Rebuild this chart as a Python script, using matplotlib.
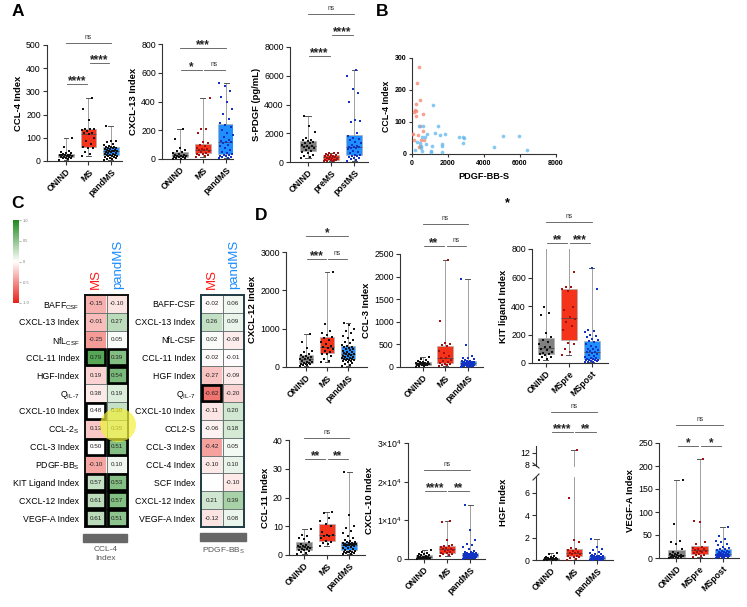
import numpy as np
import matplotlib
matplotlib.use("Agg")
import matplotlib.pyplot as plt
from matplotlib.colors import LinearSegmentedColormap
from matplotlib.patches import Rectangle, Ellipse
from matplotlib.lines import Line2D

plt.rcParams['font.family'] = ['Liberation Sans', 'DejaVu Sans']
plt.rcParams['mathtext.fontset'] = 'custom'
plt.rcParams['mathtext.rm'] = 'Liberation Sans'
plt.rcParams['mathtext.it'] = 'Liberation Sans:italic'
plt.rcParams['mathtext.bf'] = 'Liberation Sans:bold'

# ---------------- DATA ----------------
grp3 = ['ONIND', 'MS', 'pandMS']
grp_pre = ['ONIND', 'preMS', 'postMS']
grp_mspre = ['ONIND', 'MSpre', 'MSpost']

# Panel A
ccl4_onind = [6, 10, 12, 13, 15, 16, 17, 19, 20, 22, 24, 25, 26, 27, 28, 30, 33, 35, 38, 45, 62, 100]
ccl4_ms = [22, 30, 40, 55, 58, 62, 75, 85, 100, 116, 120, 122, 128, 132, 136, 138, 140, 175, 222, 270]
ccl4_pand = [5, 8, 10, 12, 14, 16, 18, 20, 22, 23, 24, 26, 28, 30, 32, 34, 36, 38, 40, 42, 43, 44, 45, 46,
             48, 50, 52, 54, 55, 58, 60, 60, 62, 65, 70, 75, 80, 85, 88, 150]
cxcl13_onind = [0, 2, 5, 8, 12, 14, 15, 18, 20, 24, 26, 30, 35, 40, 48, 55, 60, 80, 140, 210]
cxcl13_ms = [15, 20, 25, 30, 35, 38, 42, 50, 55, 60, 63, 67, 72, 80, 90, 100, 110, 120, 180, 210, 212, 425]
cxcl13_pand = [5, 8, 12, 15, 18, 22, 26, 30, 35, 40, 48, 60, 75, 90, 100, 110, 115, 120, 125, 135, 150, 165,
               180, 200, 220, 235, 250, 280, 310, 350, 400, 430, 470, 510, 530]
spdgf_onind = [300, 350, 420, 500, 600, 700, 780, 850, 950, 1000, 1050, 1080, 1120, 1200, 1300, 1350, 1400,
               1450, 1500, 1550, 1700, 2100, 2500, 3200]
spdgf_pre = [50, 80, 100, 120, 140, 160, 170, 200, 240, 280, 310, 350, 380, 410, 440, 480, 510, 520, 560, 600, 630, 650]
spdgf_post = [100, 150, 200, 250, 300, 350, 400, 450, 480, 520, 600, 700, 800, 900, 950, 1000, 1030, 1050, 1060,
              1100, 1200, 1300, 1400, 1500, 1600, 1700, 1800, 2000, 2800, 2850, 2900, 4200, 4800, 5100, 6000, 6400]

# Panel B  (PDGF-BB-S vs CCL-4 index)
b_ms_x = [390, 280, 428, 205, 150, 205, 110, 614, 240, 428, 614, 335, 56, 20, 520, 650, 110, 428, 390]
b_ms_y = [271, 222, 169, 156, 138, 133, 130, 125, 119, 88, 73, 60, 63, 63, 44, 44, 44, 26, 23]
b_pand_x = [1170, 390, 614, 1450, 1300, 1860, 1560, 855, 577, 707, 2620, 2900, 2850, 5080, 5935, 300, 428, 763,
            1675, 1675, 1135, 2850, 4577, 520, 520, 1040, 1080, 560, 150, 1690, 6380]
b_pand_y = [152, 89, 89, 86, 67, 61, 58, 62, 54, 54, 54, 51, 54, 55, 55, 36, 33, 30, 31, 26, 26, 33, 23, 26, 20,
            9, 7, 9, 12, 5, 12]

# Panel C heatmaps
hm1_rows = [r'BAFF$_{\mathrm{CSF}}$', 'CXCL-13 Index', r'NfL$_{\mathrm{CSF}}$', 'CCL-11 Index', 'HGF-Index',
            r'Q$_{\mathrm{IL}\text{-}\mathrm{7}}$', 'CXCL-10 Index', r'CCL-2$_{\mathrm{S}}$', 'CCL-3 Index',
            r'PDGF-BB$_{\mathrm{S}}$', 'KIT Ligand Index', 'CXCL-12 Index', 'VEGF-A Index']
hm1_ms = [-0.15, -0.01, -0.25, 0.79, 0.19, 0.38, 0.48, 0.13, 0.50, -0.10, 0.57, 0.61, 0.61]
hm1_pand = [-0.10, 0.27, 0.05, 0.39, 0.54, 0.19, 0.30, 0.35, 0.51, 0.10, 0.53, 0.57, 0.51]
# shading as displayed in the published heatmap
hm1_ms_shade = [-0.35, -0.3, -0.45, 0.75, -0.2, -0.1, 0.0, -0.25, 0.0, -0.4, 0.25, 0.3, 0.3]
hm1_pand_shade = [-0.12, 0.3, 0.03, 0.55, 0.6, 0.15, 0.25, 0.2, 0.55, 0.07, 0.55, 0.55, 0.5]
hm1_bold = [(3, 0), (3, 1), (4, 1), (6, 0), (8, 0), (8, 1), (10, 0), (10, 1), (11, 0), (11, 1), (12, 0), (12, 1)]

hm2_rows = ['BAFF-CSF', 'CXCL-13 Index', 'NfL-CSF', 'CCL-11 Index', 'HGF Index',
            r'Q$_{\mathrm{IL}\text{-}\mathrm{7}}$', 'CXCL-10 Index', 'CCL2-S', 'CCL-3 Index', 'CCL-4 Index',
            'SCF Index', 'CXCL-12 Index', 'VEGF-A Index']
hm2_ms = [-0.02, 0.26, 0.02, -0.02, -0.27, -0.62, -0.11, -0.06, -0.42, -0.10, np.nan, 0.21, -0.12]
hm2_pand = [0.06, 0.09, -0.08, -0.01, -0.09, -0.20, 0.20, 0.18, 0.05, 0.10, -0.10, 0.39, 0.08]
hm2_bold = [(5, 0)]

# Panel D
cxcl12_onind = [20, 40, 55, 70, 85, 90, 100, 110, 120, 140, 160, 180, 200, 210, 230, 250, 270, 300, 320, 340,
                380, 420, 500, 640, 850]
cxcl12_ms = [130, 160, 220, 280, 330, 350, 380, 420, 460, 500, 520, 540, 600, 650, 700, 760, 790, 830, 880, 950,
             1130, 2480]
cxcl12_pand = [30, 60, 90, 110, 130, 150, 160, 170, 180, 190, 200, 210, 220, 230, 240, 250, 260, 280, 300, 320,
               330, 340, 350, 360, 380, 400, 420, 440, 460, 480, 500, 510, 520, 540, 580, 620, 660, 700, 760, 820,
               880, 950, 1000, 1100, 1150]
ccl3_onind = [10, 20, 30, 40, 48, 52, 55, 60, 65, 70, 73, 77, 80, 85, 90, 100, 110, 115, 130, 150, 180, 230]
ccl3_ms = [20, 35, 50, 60, 70, 80, 100, 130, 160, 190, 210, 250, 300, 350, 460, 480, 500, 530, 1010, 2370]
ccl3_pand = [5, 10, 15, 20, 25, 28, 32, 35, 38, 42, 48, 55, 60, 65, 70, 75, 78, 80, 85, 90, 95, 100, 105, 110,
             118, 125, 130, 140, 150, 170, 200, 210, 250, 490, 1950]
kit_onind = [20, 30, 40, 45, 55, 60, 65, 70, 80, 90, 100, 110, 115, 130, 150, 160, 180, 210, 340, 350, 390, 1050]
kit_pre = [55, 75, 95, 130, 140, 230, 260, 290, 310, 325, 370, 390, 505, 520, 530, 535, 640, 950]
kit_post = [5, 8, 10, 12, 15, 18, 20, 22, 24, 25, 28, 32, 38, 45, 50, 55, 60, 68, 75, 80, 85, 90, 95, 100, 110,
            120, 130, 145, 155, 160, 170, 180, 190, 200, 215, 225, 235, 520, 665]
ccl11_onind = [0.5, 0.8, 1.0, 1.3, 1.6, 1.8, 2.0, 2.2, 2.5, 2.7, 2.8, 2.9, 3.0, 3.2, 3.6, 4.0, 4.6, 5.5, 6.0, 6.5,
               7.0, 9.0]
ccl11_ms = [3.0, 4.0, 4.3, 4.5, 5.0, 6.0, 6.5, 6.7, 6.8, 7.0, 8.0, 10.0, 10.8, 12.0, 13.0, 14.5, 15.0]
ccl11_pand = [0.3, 0.5, 0.7, 0.8, 0.9, 1.0, 1.1, 1.2, 1.3, 1.5, 1.7, 2.0, 2.3, 2.6, 2.9, 3.1, 3.3, 3.4, 3.5, 3.5,
              3.6, 3.7, 3.8, 3.9, 4.0, 4.1, 4.2, 4.3, 4.4, 4.5, 4.8, 5.2, 5.8, 6.5, 7.5, 8.5, 9.5, 10.2, 13.8, 28.7]
cxcl10_onind = [100, 130, 150, 170, 180, 200, 250, 300, 350, 420, 480, 520, 600, 700, 800, 950, 1050, 1200, 1400,
                1600, 1900, 2200]
cxcl10_ms = [900, 1000, 1200, 1400, 1450, 1500, 1800, 2100, 2300, 2450, 2550, 2700, 2900, 3100, 3300, 3400, 3500,
             5000, 9500, 9800]
cxcl10_pand = [100, 150, 200, 250, 300, 330, 360, 380, 400, 420, 450, 500, 600, 700, 800, 900, 950, 1000, 1050,
               1100, 1100, 1150, 1200, 1250, 1300, 1350, 1400, 1450, 1500, 1650, 1750, 1900, 2100, 2500, 3000, 3500,
               4000, 5000, 7600, 14000]
hgf_onind = [0.01, 0.02, 0.03, 0.04, 0.05, 0.06, 0.07, 0.08, 0.09, 0.10, 0.11, 0.12, 0.13, 0.15, 0.17, 0.19, 0.21,
             0.25, 0.30, 0.40, 0.50, 0.60]
hgf_ms = [0.02, 0.1, 0.2, 0.25, 0.3, 0.35, 0.4, 0.5, 0.55, 0.6, 0.62, 0.7, 0.8, 0.9, 1.0, 1.1, 1.6, 1.8, 5.5, 12.7]
hgf_pand = [0.01, 0.02, 0.03, 0.04, 0.05, 0.05, 0.06, 0.06, 0.07, 0.07, 0.08, 0.09, 0.10, 0.11, 0.12, 0.14, 0.15,
            0.17, 0.18, 0.19, 0.21, 0.22, 0.24, 0.26, 0.28, 0.30, 0.32, 0.33, 0.35, 0.37, 0.40, 0.45, 0.50, 0.55,
            0.60, 0.70, 0.90, 1.00, 1.20, 1.90]
vegf_onind = [0.5, 1, 1.5, 2, 2.5, 3, 3.5, 4, 5, 6, 7, 7.5, 8, 9, 10, 12, 20, 30, 35, 37, 73, 170]
vegf_pre = [3, 5, 6, 7, 8, 10, 12, 14, 15, 16, 18, 19, 20, 22, 25, 30, 35, 78, 80, 215]
vegf_post = [0.5, 1, 1.5, 2, 2.5, 3, 3.5, 4, 4.5, 5, 5.5, 6, 6.5, 7, 7.5, 8, 8, 8.5, 9, 10, 11, 12, 13, 14, 15, 16,
             18, 19, 20, 22, 25, 28, 30, 35, 38, 42, 47, 68]

# ---------------- STYLE ----------------
W, H = 747, 607
fig = plt.figure(figsize=(W / 100, H / 100), dpi=100)

GRAY, RED, BLUE = '#808080', '#f5321a', '#1f8fff'
K, DR, DB = '#111111', '#a31010', '#1232c4'


def add_ax(l, t, r, b):
    return fig.add_axes([l / W, 1 - b / H, (r - l) / W, (b - t) / H])


def fx(x):
    return x / W


def fy(y):
    return 1 - y / H


def style_ax(ax):
    for s in ['top', 'right']:
        ax.spines[s].set_visible(False)
    for s in ['left', 'bottom']:
        ax.spines[s].set_color('#333333')
        ax.spines[s].set_linewidth(0.8)
    ax.tick_params(direction='out', length=3, width=0.8, color='#333333', labelsize=6.3, pad=1.5)


def boxpanel(ax, groups, labels, pcolors, ylim, yticks, ylabel, xlim, brackets,
             ytlabels=None, width=0.7, xt=True):
    bp = ax.boxplot(groups, positions=range(len(groups)), widths=width, whis=(0, 100),
                    patch_artist=True, showfliers=False,
                    medianprops=dict(color='#444444', lw=0.5),
                    boxprops=dict(edgecolor='#b0b0b0', lw=0.5),
                    whiskerprops=dict(color='#a0a0a0', lw=0.7),
                    capprops=dict(color='#555555', lw=0.7), capwidths=0.22)
    for p, c in zip(bp['boxes'], [GRAY, RED, BLUE]):
        p.set_facecolor(c)
    for i, (g, pc) in enumerate(zip(groups, pcolors)):
        n = len(g)
        off = ((np.arange(n) * 0.6180339887) % 1 - 0.5) * width * 0.85
        ax.scatter(i + off, g, s=4, color=pc, zorder=3, linewidths=0, marker='s')
    ax.set_xlim(*xlim)
    ax.set_ylim(*ylim)
    ax.set_yticks(yticks)
    if ytlabels is not None:
        ax.set_yticklabels(ytlabels)
    style_ax(ax)
    if xt:
        ax.set_xticks(range(len(groups)))
        ax.set_xticklabels(labels, rotation=45, ha='right', rotation_mode='anchor',
                           fontweight='bold', fontsize=6.3)
    else:
        ax.set_xticks([])
    if ylabel:
        ax.set_ylabel(ylabel, fontweight='bold', fontsize=6.8, labelpad=2)
    for (i, j, y, txt) in brackets:
        if j - i == 1:
            x1, x2 = i + 0.06, j - 0.06
        else:
            x1, x2 = i, j
        ax.add_line(Line2D([x1, x2], [y, y], color='#555555', lw=0.6, clip_on=False))
        if txt == 'ns':
            ax.annotate(txt, ((x1 + x2) / 2, y), xytext=(0, 1.5), textcoords='offset points',
                        ha='center', va='bottom', fontsize=4.8, color='#333333', annotation_clip=False)
        else:
            ax.annotate(txt, ((x1 + x2) / 2, y), xytext=(0, -2.2), textcoords='offset points',
                        ha='center', va='bottom', fontsize=8.5, fontweight='bold', color='#222222',
                        annotation_clip=False)


# ---------------- PANEL A ----------------
fig.text(fx(12), fy(4), 'A', fontsize=12.5, fontweight='bold', va='top', ha='left')
ax = add_ax(47, 45, 122, 161)
boxpanel(ax, [ccl4_onind, ccl4_ms, ccl4_pand], grp3, [K, K, K], (0, 500), range(0, 501, 100),
         'CCL-4 Index', (-0.85, 2.5), [(0, 1, 332, '****'), (1, 2, 422, '****'), (0, 2, 509, 'ns')])
ax = add_ax(162, 44, 233, 159)
boxpanel(ax, [cxcl13_onind, cxcl13_ms, cxcl13_pand], grp3, [K, DR, DB], (0, 800), range(0, 801, 200),
         'CXCL-13 Index', (-0.77, 2.3), [(0, 1, 618, '*'), (1, 2, 618, 'ns'), (0, 2, 770, '***')])
ax = add_ax(290, 47, 368, 162)
boxpanel(ax, [spdgf_onind, spdgf_pre, spdgf_post], grp_pre, [K, DR, DB], (0, 8000), range(0, 8001, 2000),
         'S-PDGF (pg/mL)', (-0.78, 2.6), [(0, 1, 7370, '****'), (1, 2, 8820, '****'), (0, 2, 10280, 'ns')])

# ---------------- PANEL B ----------------
fig.text(fx(376), fy(4), 'B', fontsize=12.5, fontweight='bold', va='top', ha='left')
ax = add_ax(412, 58, 556, 154)
ax.scatter(b_ms_x, b_ms_y, s=7, color='#f4826e', alpha=0.75, linewidths=0, zorder=3)
ax.scatter(b_pand_x, b_pand_y, s=7, color='#5cb8ee', alpha=0.75, linewidths=0, zorder=3)
ax.set_xlim(0, 8000)
ax.set_ylim(0, 300)
ax.set_xticks(range(0, 8001, 2000))
ax.set_yticks(range(0, 301, 100))
style_ax(ax)
ax.tick_params(labelsize=5, length=2.5)
for t in ax.get_xticklabels() + ax.get_yticklabels():
    t.set_fontweight('bold')
ax.set_xlabel('PDGF-BB-S', fontweight='bold', fontsize=6.6, labelpad=4)
ax.set_ylabel('CCL-4 Index', fontweight='bold', fontsize=6.3, labelpad=3)

# ---------------- PANEL C ----------------
fig.text(fx(11), fy(196), 'C', fontsize=12.5, fontweight='bold', va='top', ha='left')
cmap = LinearSegmentedColormap.from_list('rg', [(0, '#e8221b'), (0.5, '#ffffff'), (1, '#1f8a1f')])

# colorbar
cax = add_ax(13, 220, 19, 303)
grad = np.linspace(1, -1, 200).reshape(-1, 1)
cax.imshow(grad, cmap=cmap, vmin=-1, vmax=1, aspect='auto', extent=[0, 1, -1, 1])
cax.set_xticks([])
cax.yaxis.tick_right()
cax.set_yticks([1, 0.5, 0, -0.5, -1])
cax.set_yticklabels(['1.0', '0.5', '0', '-0.5', '-1.0'])
cax.tick_params(labelsize=2.8, length=1.5, width=0.4, colors='#777777', pad=1)
for s in cax.spines.values():
    s.set_visible(False)


def heatmap(l, r, t, b, rows, v_ms, v_pand, shade_ms, shade_pand, bold, frame_color, frame_lw):
    ax = add_ax(l, t, r, b)
    vals = np.array([v_ms, v_pand], dtype=float).T
    shade = np.array([shade_ms, shade_pand], dtype=float).T
    shade_draw = np.where(np.isnan(shade), 0, shade)
    ax.imshow(shade_draw, cmap=cmap, vmin=-1, vmax=1, aspect='auto')
    nr = len(rows)
    for i in range(nr):
        for j in range(2):
            ax.add_patch(Rectangle((j - 0.5, i - 0.5), 1, 1, fill=False, ec='#667070', lw=0.5))
            if not np.isnan(vals[i, j]):
                ax.text(j, i, f'{vals[i, j]:.2f}', ha='center', va='center', fontsize=4.5, color='#222222')
    for (i, j) in bold:
        ax.add_patch(Rectangle((j - 0.5 + 0.05, i - 0.5 + 0.05), 0.9, 0.9, fill=False, ec='black',
                               lw=1.9, zorder=5))
    ax.set_xticks([])
    ax.set_yticks(range(nr))
    ax.set_yticklabels(rows, fontsize=6.3)
    ax.tick_params(axis='y', length=0, pad=4)
    for s in ax.spines.values():
        s.set_color(frame_color)
        s.set_linewidth(frame_lw)
    return ax


heatmap(85, 128, 295, 527, hm1_rows, hm1_ms, hm1_pand, hm1_ms_shade, hm1_pand_shade, hm1_bold, '#111111', 1.4)
heatmap(201, 244, 295, 527, hm2_rows, hm2_ms, hm2_pand, hm2_ms, hm2_pand, hm2_bold, '#1f3b44', 1.4)

for cx in (96, 212):
    fig.text(fx(cx), fy(289), 'MS', rotation=90, color='#ff1a1a', fontsize=9.5, ha='center', va='bottom')
for cx in (118, 234):
    fig.text(fx(cx), fy(289), 'pandMS', rotation=90, color='#1a8cff', fontsize=9.5, ha='center', va='bottom')

fig.patches.append(Rectangle((fx(83), fy(542)), (127 - 83) / W, 8 / H, transform=fig.transFigure,
                             color='#676767', zorder=1))
fig.patches.append(Rectangle((fx(200), fy(541)), (246 - 200) / W, 8 / H, transform=fig.transFigure,
                             color='#676767', zorder=1))
fig.text(fx(106), fy(546), 'CCL-4\nIndex', ha='center', va='top', fontsize=6, color='#555555', linespacing=1.5)
fig.text(fx(223), fy(546), r'PDGF-BB$_{\mathrm{S}}$', ha='center', va='top', fontsize=6, color='#555555')

# yellow highlight
fig.patches.append(Ellipse((fx(118), fy(425)), 36 / W, 34 / H, transform=fig.transFigure,
                           color='#f1f03a', alpha=0.7, zorder=10, lw=0))

# ---------------- PANEL D ----------------
fig.text(fx(255), fy(208), 'D', fontsize=12.5, fontweight='bold', va='top', ha='left')
fig.text(fx(507), fy(203), '*', fontsize=9, fontweight='bold', ha='center', va='center')

ax = add_ax(286, 252, 367, 367)
boxpanel(ax, [cxcl12_onind, cxcl12_ms, cxcl12_pand], grp3, [K, K, K], (0, 3000), range(0, 3001, 1000),
         'CXCL-12 Index', (-0.95, 2.9), [(0, 1, 2826, '***'), (1, 2, 2826, 'ns'), (0, 2, 3409, '*')])
ax = add_ax(400, 254, 483, 367)
boxpanel(ax, [ccl3_onind, ccl3_ms, ccl3_pand], grp3, [K, DR, DB], (0, 2500), range(0, 2501, 500),
         'CCL-3 Index', (-1.0, 2.67), [(0, 1, 2670, '**'), (1, 2, 2670, 'ns'), (0, 2, 3153, 'ns')])
ax = add_ax(532, 249, 608, 363)
boxpanel(ax, [kit_onind, kit_pre, kit_post], grp_mspre, [K, DR, DB], (0, 800), range(0, 801, 200),
         'KIT ligand Index', (-0.6, 2.7), [(0, 1, 842, '**'), (1, 2, 842, '***'), (0, 2, 989, 'ns')])

ax = add_ax(289, 440, 365, 555)
boxpanel(ax, [ccl11_onind, ccl11_ms, ccl11_pand], grp3, [K, K, K], (0, 40), range(0, 41, 10),
         'CCL-11 Index', (-0.67, 2.7), [(0, 1, 33.4, '**'), (1, 2, 33.4, '**'), (0, 2, 40.6, 'ns')])
ax = add_ax(408, 443, 485, 559)
boxpanel(ax, [cxcl10_onind, cxcl10_ms, cxcl10_pand], grp3, [K, DR, DB], (0, 30000), range(0, 30001, 10000),
         'CXCL-10 Index', (-0.7, 2.65), [(0, 1, 17630, '****'), (1, 2, 17630, '**'), (0, 2, 23080, 'ns')],
         ytlabels=['0', r'$1{\times}10^4$', r'$2{\times}10^4$', r'$3{\times}10^4$'])

# HGF with broken axis
hgf = [hgf_onind, hgf_ms, hgf_pand]
axl = add_ax(536, 477, 613, 560)
boxpanel(axl, hgf, grp3, [K, DR, DB], (0, 7.4), [0, 2, 4, 6], 'HGF Index', (-0.65, 2.7), [])
axl.yaxis.set_label_coords(-0.36, 0.69)
axu = add_ax(536, 446.5, 613, 466.5)
boxpanel(axu, hgf, grp3, [K, DR, DB], (7.5, 14), [8, 12], None, (-0.65, 2.7),
         [(0, 1, 18.7, '****'), (1, 2, 18.7, '**'), (0, 2, 25.3, 'ns')], xt=False)
axu.spines['bottom'].set_visible(False)
axu.patch.set_alpha(0)
fig.add_artist(Line2D([fx(533), fx(539)], [fy(463), fy(468)], transform=fig.transFigure, color='#333333', lw=0.8))
fig.add_artist(Line2D([fx(533), fx(539)], [fy(480), fy(474)], transform=fig.transFigure, color='#333333', lw=0.8))

ax = add_ax(659, 443, 739, 558)
boxpanel(ax, [vegf_onind, vegf_pre, vegf_post], grp_mspre, [K, DR, DB], (0, 250), range(0, 251, 50),
         'VEGF-A Index', (-0.75, 2.7), [(0, 1, 243, '*'), (1, 2, 243, '*'), (0, 2, 290, 'ns')])

fig.savefig('out.png', dpi=100)
